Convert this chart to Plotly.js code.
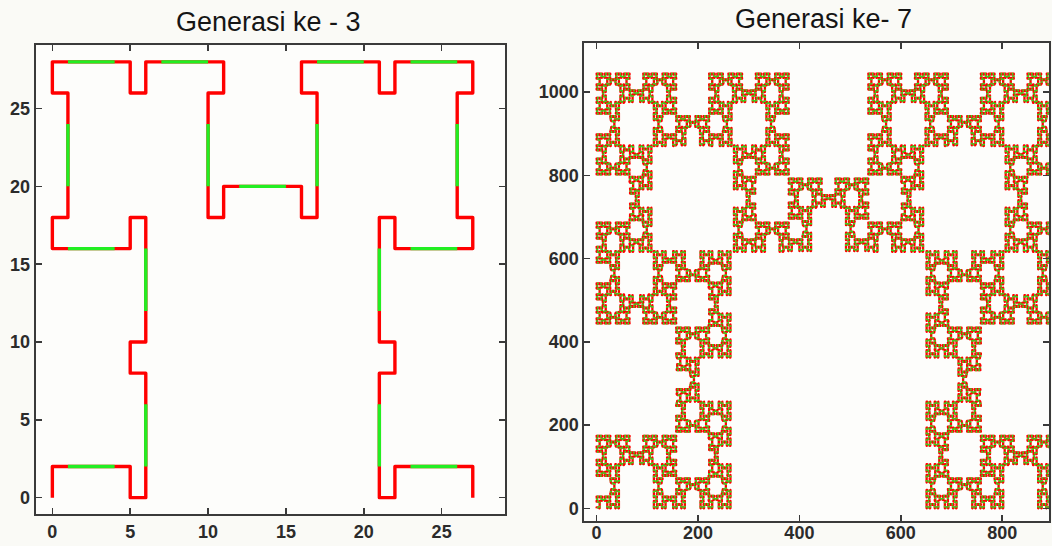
<!DOCTYPE html>
<html><head><meta charset="utf-8">
<script src="https://cdn.plot.ly/plotly-3.0.1.min.js"></script>
<style>html,body{margin:0;padding:0;background:#fafaf6;overflow:hidden}#chart{width:1052px;height:546px}</style>
</head><body><div id="chart"></div>
<script>
// ---- Generation 3: vertices of the curve ----
const gen3X = [0,0,5,5,6,6,5,5,6,6,5,5,0,0,1,1,0,0,5,5,6,6,11,11,10,10,11,11,16,16,17,17,16,16,21,21,22,22,27,27,26,26,27,27,22,22,21,21,22,22,21,21,22,22,27,27];
const gen3Y = [0,2,2,0,0,8,8,10,10,18,18,16,16,18,18,26,26,28,28,26,26,28,28,26,26,18,18,20,20,18,18,26,26,28,28,26,26,28,28,26,26,18,18,16,16,18,18,10,10,8,8,0,0,2,2,0];
// green stretches of generation 3 (null = break)
const gen3GreenX = [1,4,null,6,6,null,6,6,null,4,1,null,1,1,null,1,4,null,7,10,null,10,10,null,12,15,null,17,17,null,17,20,null,23,26,null,26,26,null,26,23,null,21,21,null,21,21,null,23,26];
const gen3GreenY = [2,2,null,2,6,null,12,16,null,16,16,null,20,24,null,28,28,null,28,28,null,24,20,null,20,20,null,20,24,null,28,28,null,28,28,null,24,20,null,16,16,null,16,12,null,6,2,null,2,2];

// ---- tick labels and titles ----
const ticksGen3 = [0,5,10,15,20,25];
const ticksGen7X = [0,200,400,600,800];
const ticksGen7Y = [0,200,400,600,800,1000];
const titleGen3 = 'Generasi ke - 3';
const titleGen7 = 'Generasi ke- 7';

// ---- Generation 7: the same substitution pattern as in generation 3 ----
// strokes: A = red piece, B = green piece; '+' left turn, '-' right turn
const seedArch1 = ['A','-','A','B','A','-','A'];
const seedTop2  = ['A','B','A','-','A','+','A','+','A','-','A','B','A'];
const strokeLen = {A:[1,2], B:[3,4]};   // [horizontal, vertical] length
const generation = 7;

function mirror(t){ return t.map(s => s==='+' ? '-' : (s==='-' ? '+' : s)); }
function buildCurve(gen){
  const C = {}, Top = {};
  C[1] = seedArch1;
  Top[2] = seedTop2;
  const K2 = ['A','+','A','B','A','+','A','-','A','-'].concat(seedTop2, ['-','A','-','A','+','A','B','A','+','A']);
  C[2] = ['A','-'].concat(K2, ['-','A']);
  const K = m => C[m].slice(2, -2);
  for (let n = 3; n <= gen; n++) {
    Top[n] = [].concat(K(n-1), ['+'], C[n-2], ['+'], K(n-1));
    const pil = mirror(Top[n-1]);
    C[n] = [].concat(C[n-2], ['+','A','+'], pil, ['+','A','+'], C[n-2], ['-'], Top[n], ['-'],
                     C[n-2], ['+','A','+'], pil, ['+','A','+'], C[n-2]);
  }
  return C[gen];
}
function trace(tokens){
  let x = 0, y = 0, h = 1;
  const dx = [1,0,-1,0], dy = [0,1,0,-1];
  const px = [0], py = [0], gx = [], gy = [];
  for (const t of tokens) {
    if (t === '+') h = (h + 1) % 4;
    else if (t === '-') h = (h + 3) % 4;
    else {
      const L = strokeLen[t][h % 2];
      const nx = x + dx[h]*L, ny = y + dy[h]*L;
      if (t === 'B') { gx.push(x, nx, null); gy.push(y, ny, null); }
      x = nx; y = ny; px.push(x); py.push(y);
    }
  }
  return {px, py, gx, gy};
}
const g7 = trace(buildCurve(generation));

const RED = '#ff0000', GREEN = '#22ee22';
const traces = [
  {x: gen3X, y: gen3Y, type:'scatter', mode:'lines', line:{color:RED, width:3.4}, xaxis:'x', yaxis:'y', hoverinfo:'skip'},
  {x: gen3GreenX, y: gen3GreenY, type:'scatter', mode:'lines', line:{color:GREEN, width:3.4}, xaxis:'x', yaxis:'y', hoverinfo:'skip'},
  {x: g7.px, y: g7.py, type:'scatter', mode:'lines', line:{color:RED, width:2.3}, xaxis:'x2', yaxis:'y2', hoverinfo:'skip'},
  {x: g7.gx, y: g7.gy, type:'scatter', mode:'lines', line:{color:'#33dd22', width:2.1}, xaxis:'x2', yaxis:'y2', hoverinfo:'skip'}
];

const tickFont = {family:'Arial, "Liberation Sans", sans-serif', size:18, color:'#2b2b2b', weight:'bold'};
const axisBase = {showline:true, linecolor:'#3a3a3a', linewidth:2, mirror:'ticks', ticks:'inside',
  ticklen:6, tickwidth:1.5, tickcolor:'#3a3a3a', showgrid:false, zeroline:false, tickfont:tickFont, fixedrange:true};

const W = 1052, H = 546;
const layout = {
  width: W, height: H, margin:{l:0, r:0, t:0, b:0},
  paper_bgcolor:'#fafaf6', plot_bgcolor:'#fdfdfb', showlegend:false,
  xaxis: Object.assign({}, axisBase, {domain:[35.7/W, 505/W], range:[-1.07, 29.07], tickvals:ticksGen3, anchor:'y'}),
  yaxis: Object.assign({}, axisBase, {domain:[1-514.3/H, 1-45.2/H], range:[-1.07, 29.07], tickvals:ticksGen3, anchor:'x'}),
  xaxis2: Object.assign({}, axisBase, {domain:[584.4/W, 1049.3/W], range:[-24.1, 893], tickvals:ticksGen7X, anchor:'y2', ticklabelstandoff:-6}),
  yaxis2: Object.assign({}, axisBase, {domain:[1-521.2/H, 1-43.3/H], range:[-31, 1117], tickvals:ticksGen7Y, anchor:'x2'}),
  annotations: [
    {text:titleGen3, xref:'paper', yref:'paper', x:268/W, y:1-21.6/H, xanchor:'center', yanchor:'middle', showarrow:false,
     font:{family:'Arial, "Liberation Sans", sans-serif', size:27, color:'#151515'}},
    {text:titleGen7, xref:'paper', yref:'paper', x:823/W, y:1-19/H, xanchor:'center', yanchor:'middle', showarrow:false,
     font:{family:'Arial, "Liberation Sans", sans-serif', size:27, color:'#151515'}}
  ]
};
Plotly.newPlot('chart', traces, layout, {staticPlot:true, displayModeBar:false}).then(() => {
  document.querySelectorAll('.scatterlayer .js-line').forEach(p => { p.style.strokeLinejoin = 'round'; });
});
</script>
</body></html>
